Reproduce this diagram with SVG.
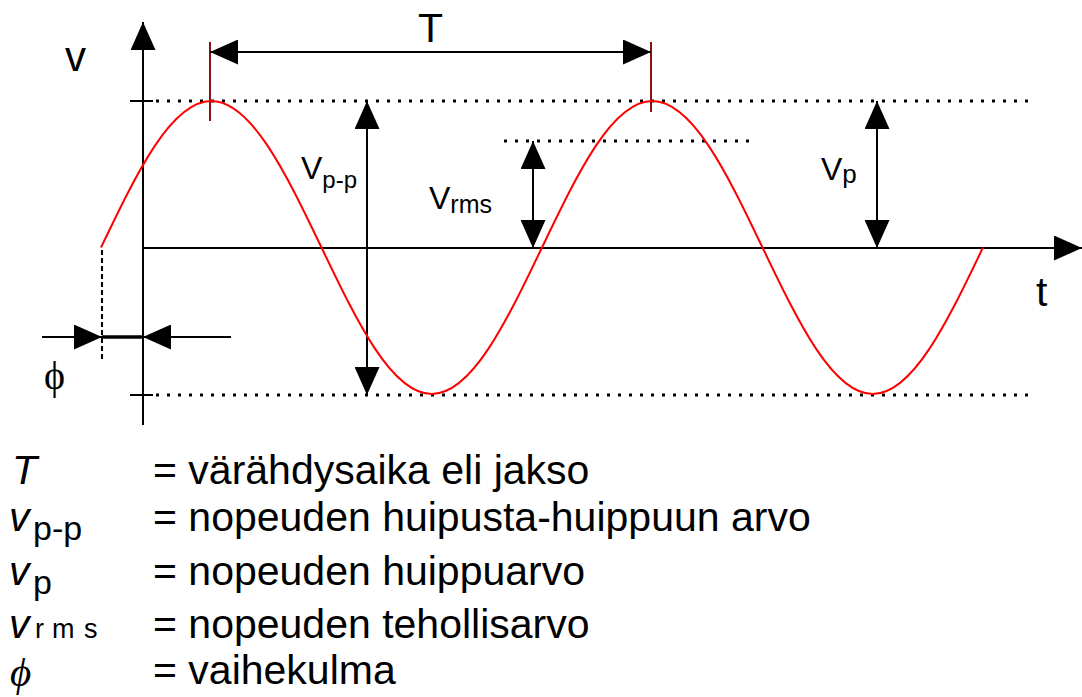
<svg xmlns="http://www.w3.org/2000/svg" width="1082" height="697" viewBox="0 0 1082 697">
<style>
  .ln{stroke:#000;stroke-width:2;fill:none}
  .dot{stroke:#000;stroke-width:3;stroke-dasharray:3 8;fill:none}
  .mk{stroke:#8b1010;stroke-width:2;fill:none}
  .sans{font-family:"Liberation Sans",Arial,sans-serif;fill:#000}
  .serif{font-family:"Liberation Serif","DejaVu Serif",serif;fill:#000}
  .it{font-style:italic}
</style>
<defs>
  <marker id="ah" viewBox="0 0 28 25" refX="28" refY="12.5" markerWidth="28" markerHeight="25" markerUnits="userSpaceOnUse" orient="auto-start-reverse">
    <path d="M0,0 L28,12.5 L0,25 Z" fill="#000"/>
  </marker>
</defs>
<rect width="1082" height="697" fill="#fff"/>
<g id="connectors">
  <!-- axes -->
  <line class="ln" x1="143" y1="425" x2="143" y2="22" marker-end="url(#ah)"/>
  <line class="ln" x1="143" y1="248" x2="1082" y2="248" marker-end="url(#ah)"/>
  <!-- ticks -->
  <line class="ln" x1="130" y1="101" x2="153" y2="101"/>
  <line class="ln" x1="130" y1="395" x2="153" y2="395"/>
  <!-- dotted levels -->
  <line class="dot" x1="156" y1="101" x2="1035" y2="101"/>
  <line class="dot" x1="156" y1="395" x2="1035" y2="395"/>
  <line class="dot" x1="504" y1="141" x2="756" y2="141"/>
  <!-- period markers -->
  <line class="mk" x1="210" y1="42" x2="210" y2="121"/>
  <line class="mk" x1="651" y1="42" x2="651" y2="112"/>
  <line class="ln" x1="210" y1="52" x2="651" y2="52" marker-start="url(#ah)" marker-end="url(#ah)"/>
  <!-- amplitude arrows -->
  <line class="ln" x1="367" y1="101" x2="367" y2="395" marker-start="url(#ah)" marker-end="url(#ah)"/>
  <line class="ln" x1="533" y1="141" x2="533" y2="248" marker-start="url(#ah)" marker-end="url(#ah)"/>
  <line class="ln" x1="877" y1="101" x2="877" y2="248" marker-start="url(#ah)" marker-end="url(#ah)"/>
  <!-- phase -->
  <line x1="102" y1="250" x2="102" y2="362" stroke="#000" stroke-width="2" stroke-dasharray="5 3"/>
  <line class="ln" x1="42" y1="337" x2="102" y2="337" marker-end="url(#ah)"/>
  <line x1="102" y1="337" x2="143" y2="337" stroke="#000" stroke-width="3.5"/>
  <line class="ln" x1="231" y1="337" x2="143" y2="337" marker-end="url(#ah)"/>
</g>
<g id="wave">
  <path d="M101,247.5 c35.95,-75.05 70.35,-146.5 110.25,-146.5 c39.9,0 74.3,71.45 110.25,146.5 c35.95,75.05 70.35,146.5 110.25,146.5 c39.9,0 74.3,-71.45 110.25,-146.5 c35.95,-75.05 70.35,-146.5 110.25,-146.5 c39.9,0 74.3,71.45 110.25,146.5 c35.95,75.05 70.35,146.5 110.25,146.5 c39.9,0 74.3,-71.45 110.25,-146.5" fill="none" stroke="#ff0000" stroke-width="2"/>
</g>
<g id="labels">
  <text class="sans" x="65" y="71" font-size="42">v</text>
  <text class="sans" x="418" y="42" font-size="41">T</text>
  <text class="sans" x="1036" y="306" font-size="41">t</text>
  <text class="sans" x="301" y="179" font-size="32">V<tspan font-size="24" dy="9">p-p</tspan></text>
  <text class="sans" x="429" y="209" font-size="32">V<tspan font-size="25" dy="4">rms</tspan></text>
  <text class="sans" x="821" y="180" font-size="32">V<tspan font-size="26" dy="3">p</tspan></text>
  <text class="serif" x="44" y="389" font-size="40">ϕ</text>
</g>
<g id="legend">
  <text class="sans it" x="12" y="484" font-size="41">T</text>
  <text class="sans" x="153" y="484" font-size="41">= värähdysaika eli jakso</text>
  <text class="sans it" x="9" y="531" font-size="41">v</text>
  <text class="sans" x="33" y="540" font-size="34">p-p</text>
  <text class="sans" x="153" y="531" font-size="41">= nopeuden huipusta-huippuun arvo</text>
  <text class="sans it" x="9" y="585" font-size="41">v</text>
  <text class="sans" x="33" y="594" font-size="34">p</text>
  <text class="sans" x="153" y="585" font-size="41">= nopeuden huippuarvo</text>
  <text class="sans it" x="9" y="638" font-size="41">v</text>
  <text class="sans" y="638" font-size="27"><tspan x="35">r</tspan><tspan x="52">m</tspan><tspan x="84">s</tspan></text>
  <text class="sans" x="153" y="638" font-size="41">= nopeuden tehollisarvo</text>
  <text class="serif it" x="10" y="686" font-size="41">ϕ</text>
  <text class="sans" x="153" y="684" font-size="41">= vaihekulma</text>
</g>
</svg>
